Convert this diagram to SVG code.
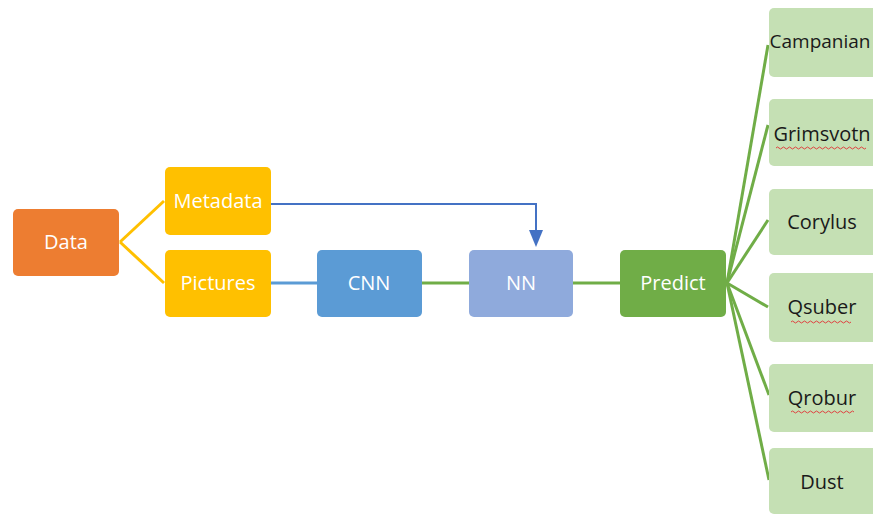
<svg xmlns="http://www.w3.org/2000/svg" width="873" height="514" viewBox="0 0 873 514">
  <style>
    .box text { font-family: "Open Sans", "Liberation Sans", sans-serif; font-size: 20px; text-anchor: middle; dominant-baseline: central; }
    .light text { fill: #ffffff; }
    .leaf rect { fill: #C5E0B4; }
    .leaf text { fill: #1a1a1a; }
    .link { fill: none; stroke-width: 3; }
    .yellow { stroke: #FFC000; }
    .green { stroke: #70AD47; }
    .blue { stroke: #5B9BD5; }
    .navy { stroke: #4472C4; stroke-width: 2; }
    .spell { fill: none; stroke: #E04040; stroke-width: 1; }
  </style>
  <rect width="873" height="514" fill="#ffffff"/>

  <g id="connectors">
    <path class="link yellow" d="M120,242 L164,201"/>
    <path class="link yellow" d="M120,242 L164,283"/>
    <path class="link navy" d="M271,204 H536 V236"/>
    <path d="M529,230 L543,230 L536,247 Z" fill="#4472C4"/>
    <path class="link blue" d="M271,283 H317"/>
    <path class="link green" d="M422,283 H469"/>
    <path class="link green" d="M573,283 H620"/>
    <path class="link green" d="M727,283 L768,45"/>
    <path class="link green" d="M727,283 L768,125"/>
    <path class="link green" d="M727,283 L768,220"/>
    <path class="link green" d="M727,283 L768,307"/>
    <path class="link green" d="M727,283 L769,395"/>
    <path class="link green" d="M727,283 L769,480"/>
  </g>

  <g id="data" class="box light">
    <rect x="13" y="209" width="106" height="67" rx="5" fill="#ED7D31"/>
    <text x="66" y="241">Data</text>
  </g>
  <g id="metadata" class="box light">
    <rect x="165" y="167" width="106" height="68" rx="5" fill="#FFC000"/>
    <text x="218" y="200">Metadata</text>
  </g>
  <g id="pictures" class="box light">
    <rect x="165" y="250" width="106" height="67" rx="5" fill="#FFC000"/>
    <text x="218" y="282">Pictures</text>
  </g>
  <g id="cnn" class="box light">
    <rect x="317" y="250" width="105" height="67" rx="5" fill="#5B9BD5"/>
    <text x="369" y="282">CNN</text>
  </g>
  <g id="nn" class="box light">
    <rect x="469" y="250" width="104" height="67" rx="5" fill="#8FAADC"/>
    <text x="521" y="282">NN</text>
  </g>
  <g id="predict" class="box light">
    <rect x="620" y="250" width="106" height="67" rx="5" fill="#70AD47"/>
    <text x="673" y="282">Predict</text>
  </g>

  <g id="campanian" class="box leaf">
    <rect x="769" y="8" width="108" height="69" rx="5"/>
    <text x="820" y="41" style="font-size:19px">Campanian</text>
  </g>
  <g id="grimsvotn" class="box leaf">
    <rect x="769" y="99" width="108" height="67" rx="5"/>
    <text x="822" y="133">Grimsvotn</text>
    <path class="spell" d="M776,148 q1.5,-2 3,0 t3,0 t3,0 t3,0 t3,0 t3,0 t3,0 t3,0 t3,0 t3,0 t3,0 t3,0 t3,0 t3,0 t3,0 t3,0 t3,0 t3,0 t3,0 t3,0 t3,0 t3,0 t3,0 t3,0 t3,0 t3,0 t3,0 t3,0 t3,0 t3,0"/>
  </g>
  <g id="corylus" class="box leaf">
    <rect x="769" y="189" width="108" height="66" rx="5"/>
    <text x="822" y="221">Corylus</text>
  </g>
  <g id="qsuber" class="box leaf">
    <rect x="769" y="273" width="108" height="69" rx="5"/>
    <text x="822" y="306">Qsuber</text>
    <path class="spell" d="M791,322 q1.5,-2 3,0 t3,0 t3,0 t3,0 t3,0 t3,0 t3,0 t3,0 t3,0 t3,0 t3,0 t3,0 t3,0 t3,0 t3,0 t3,0 t3,0 t3,0 t3,0 t3,0"/>
  </g>
  <g id="qrobur" class="box leaf">
    <rect x="769" y="364" width="108" height="68" rx="5"/>
    <text x="822" y="397">Qrobur</text>
    <path class="spell" d="M791,412 q1.5,-2 3,0 t3,0 t3,0 t3,0 t3,0 t3,0 t3,0 t3,0 t3,0 t3,0 t3,0 t3,0 t3,0 t3,0 t3,0 t3,0 t3,0 t3,0 t3,0 t3,0 t3,0"/>
  </g>
  <g id="dust" class="box leaf">
    <rect x="769" y="448" width="108" height="66" rx="5"/>
    <text x="822" y="481">Dust</text>
  </g>
</svg>
